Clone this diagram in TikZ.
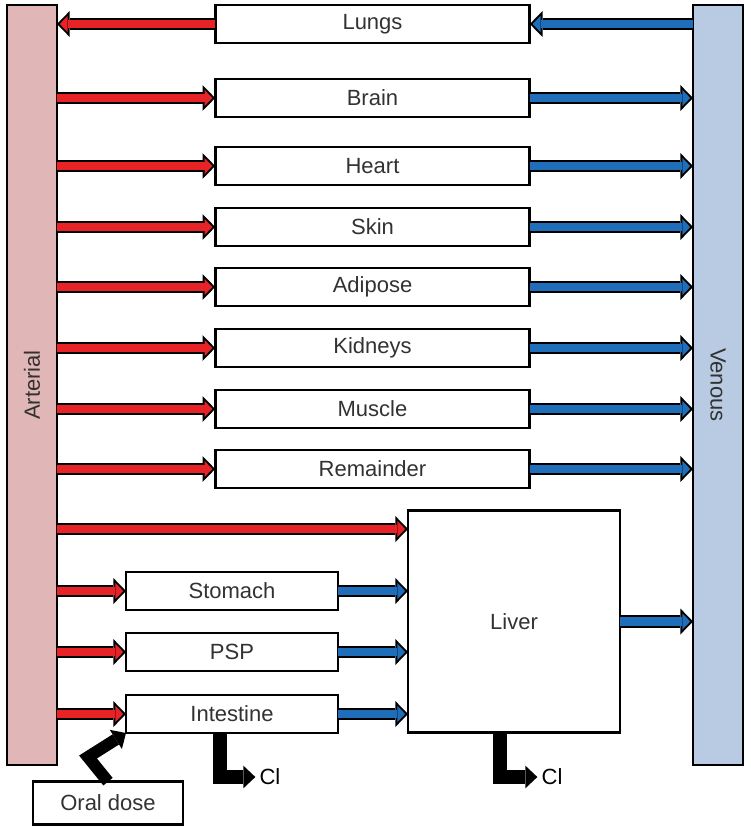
\documentclass[tikz,border=0pt]{standalone}
\usepackage{fontspec}
\setmainfont{Liberation Sans}
\usetikzlibrary{arrows.meta,positioning}

\definecolor{artred}{RGB}{232,35,40}
\definecolor{venblue}{RGB}{30,110,185}
\definecolor{artfill}{RGB}{224,182,182}
\definecolor{venfill}{RGB}{184,203,227}
\definecolor{txtgray}{RGB}{50,50,50}

\tikzset{
    organ/.style={draw, line width=2.2pt, fill=white, minimum width=236pt,
        minimum height=28.5pt, inner sep=0pt, outer sep=0pt,
        font=\fontsize{16.5}{19}\selectfont, text=txtgray},
    pool/.style={draw, line width=2.2pt, minimum width=37.5pt, minimum height=570pt,
        inner sep=0pt, outer sep=0pt, font=\fontsize{16.5}{19}\selectfont, text=txtgray},
    cl/.style={inner sep=3pt, font=\fontsize{16.5}{19}\selectfont, text=black},
    flow/.style={line width=6.5pt, draw=#1,
        -{Triangle[length=5.9pt,width=12.1pt,line width=0pt]}, shorten >=2.1pt,
        preaction={draw=black, line width=9.5pt,
            -{Triangle[length=9.5pt,width=19.5pt,line width=0pt]}, shorten >=0pt}},
    elim/.style={draw=black, line width=10.5pt, line join=miter,
        -{Triangle[length=9pt,width=17pt,line width=0pt]}}
}

\begin{document}
\begin{tikzpicture}[x=0.75pt,y=-0.75pt]
    \useasboundingbox (0,0) rectangle (750,828);

    % Blood pools
    \node[pool, fill=artfill] (art) at (32,385) {\rotatebox{90}{Arterial}};
    \node[pool, fill=venfill] (ven) at (718,385) {\rotatebox{-90}{Venous}};

    % Lungs
    \node[organ] (lungs) at (372.5,24) {Lungs};
    \draw[flow=venblue] (lungs.east -| ven.west) -- (lungs.east);
    \draw[flow=artred] (lungs.west) -- (lungs.west -| art.east);

    % Tissues between the pools
    \foreach \n/\t/\y in {brain/Brain/98, heart/Heart/166, skin/Skin/227,
        adipose/Adipose/287, kidneys/Kidneys/348, muscle/Muscle/409,
        remainder/Remainder/469} {
        \node[organ] (\n) at (372.5,\y) {\t};
        \draw[flow=artred] (\n.west -| art.east) -- (\n.west);
        \draw[flow=venblue] (\n.east) -- (\n.east -| ven.west);
    }

    % Liver
    \node[organ, minimum width=159pt, minimum height=167pt] (liver) at (514,621.5) {Liver};
    \coordinate (hep) at (408,529);
    \draw[flow=artred] (hep -| art.east) -- (hep);
    \draw[flow=venblue] (liver.east) -- (liver.east -| ven.west);

    % Gut
    \foreach \n/\t/\y in {stomach/Stomach/591, psp/PSP/652, intestine/Intestine/714} {
        \node[organ, minimum width=159pt] (\n) at (232,\y) {\t};
        \draw[flow=artred] (\n.west -| art.east) -- (\n.west);
        \draw[flow=venblue] (\n.east) -- (\n.east -| liver.west);
    }

    % Clearance
    \node[cl] (clgut) at (270,777) {Cl};
    \node[cl] (clliver) at (552,777) {Cl};
    \draw[elim] ([xshift=-9pt]intestine.south) |- (clgut.west);
    \draw[elim] ([xshift=-10.5pt]liver.south) |- (clliver.west);

    % Oral dose
    \node[organ, minimum width=112.5pt, minimum height=32pt] (oral) at (108,803) {Oral dose};
    \coordinate (kink) at (88,757);
    \draw[elim, line width=9pt] (oral.north) -- (kink) -- (intestine.south west);
\end{tikzpicture}
\end{document}
